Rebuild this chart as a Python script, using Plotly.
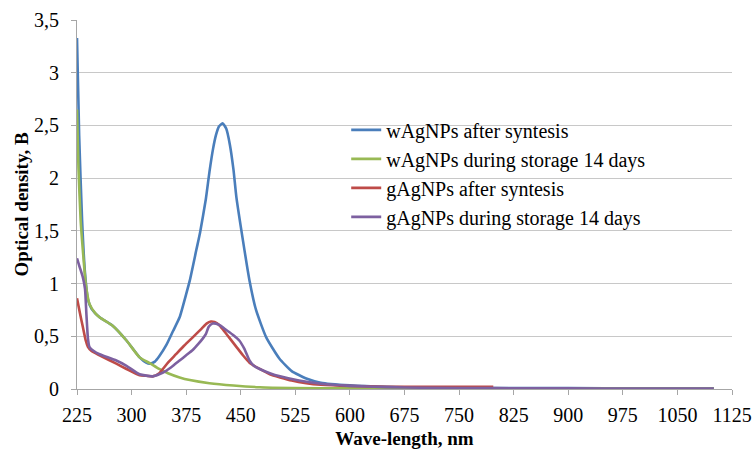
import plotly.graph_objects as go

# ---- data ----
blue_wl = [225, 228, 232, 236, 240, 245, 256, 274, 293, 311, 320, 325, 332, 338, 348, 357, 366, 375, 380,
           389, 394, 402, 407, 412, 416, 420, 425, 430, 435, 440, 444, 453, 462, 471, 485, 503, 520, 540, 560,
           600, 650, 700, 800, 900, 1000, 1100]
blue_od = [3.33, 2.4, 1.6, 1.1, 0.85, 0.76, 0.68, 0.60, 0.46, 0.30, 0.25, 0.24, 0.26, 0.31, 0.42, 0.55, 0.68,
           0.9, 1.03, 1.32, 1.48, 1.8, 2.06, 2.28, 2.41, 2.49, 2.52, 2.47, 2.32, 2.08, 1.82, 1.41, 1.03, 0.75,
           0.49, 0.29, 0.17, 0.10, 0.06, 0.035, 0.02, 0.015, 0.01, 0.008, 0.007, 0.006]

green_wl = [225, 227, 230, 233, 237, 242, 250, 256, 274, 293, 311, 325, 338, 350, 366, 380, 407, 440, 476,
            520, 600, 700, 800, 900, 1000, 1100]
green_od = [2.65, 2.1, 1.6, 1.32, 1.0, 0.81, 0.72, 0.68, 0.60, 0.46, 0.30, 0.245, 0.19, 0.15, 0.11, 0.085,
            0.055, 0.033, 0.017, 0.01, 0.006, 0.004, 0.004, 0.004, 0.004, 0.004]

red_wl = [225, 229, 233, 237, 240, 245, 256, 279, 293, 311, 320, 329, 338, 350, 361, 372, 384, 396, 403, 409,
          414, 420, 426, 435, 444, 453, 462, 476, 490, 504, 520, 540, 560, 600, 650, 700, 797]
red_od = [0.86, 0.72, 0.59, 0.46, 0.40, 0.36, 0.32, 0.24, 0.19, 0.13, 0.125, 0.12, 0.15, 0.25, 0.33, 0.41,
          0.49, 0.57, 0.62, 0.64, 0.635, 0.61, 0.56, 0.48, 0.40, 0.32, 0.25, 0.19, 0.14, 0.11, 0.08, 0.055,
          0.04, 0.028, 0.022, 0.02, 0.02]

purple_wl = [225, 229, 233, 236, 238, 240, 242, 248, 256, 279, 293, 311, 329, 338, 348, 357, 366, 375, 384,
             392, 398, 402, 406, 411, 416, 422, 430, 440, 448, 455, 462, 468, 476, 490, 504, 530, 560, 600,
             650, 700, 800, 900, 1000, 1100]
purple_od = [1.24, 1.15, 1.06, 0.95, 0.70, 0.48, 0.40, 0.36, 0.33, 0.27, 0.22, 0.14, 0.12, 0.14, 0.175, 0.22,
             0.27, 0.32, 0.37, 0.43, 0.48, 0.52, 0.59, 0.62, 0.62, 0.60, 0.56, 0.51, 0.46, 0.38, 0.27, 0.22,
             0.19, 0.15, 0.12, 0.08, 0.05, 0.03, 0.018, 0.012, 0.008, 0.006, 0.005, 0.005]

names = ["wAgNPs after syntesis", "wAgNPs during storage 14 days",
         "gAgNPs after syntesis", "gAgNPs during storage 14 days"]
colors = ["#4A7EBB", "#98B954", "#BE4B48", "#7D60A0"]

x_ticks = [225, 300, 375, 450, 525, 600, 675, 750, 825, 900, 975, 1050, 1125]
y_ticks = [0, 0.5, 1, 1.5, 2, 2.5, 3, 3.5]
y_tick_text = ["0", "0,5", "1", "1,5", "2", "2,5", "3", "3,5"]

FONT = "Liberation Serif, Times New Roman, serif"

fig = go.Figure()
for wl, od, nm, c in zip([blue_wl, green_wl, red_wl, purple_wl],
                         [blue_od, green_od, red_od, purple_od], names, colors):
    fig.add_trace(go.Scatter(x=wl, y=od, mode="lines", name=nm,
                             line=dict(color=c, width=2.6, shape="spline", smoothing=0.5)))

fig.update_layout(
    width=753, height=450,
    margin=dict(l=77, r=21, t=20, b=61, autoexpand=False),
    plot_bgcolor="white", paper_bgcolor="white",
    font=dict(family=FONT, size=20, color="black"),
    showlegend=True,
    legend=dict(x=0.411, y=0.755, xanchor="left", yanchor="top",
                font=dict(family=FONT, size=20, color="black"),
                bgcolor="rgba(0,0,0,0)", borderwidth=0),
)
fig.update_xaxes(
    range=[225, 1125], tickvals=x_ticks, ticktext=[str(t) for t in x_ticks],
    showgrid=False, zeroline=False, automargin=False,
    showline=True, linecolor="#A6A6A6", linewidth=1,
    ticks="outside", ticklen=5, tickcolor="#A6A6A6", ticklabelstandoff=3,
    tickfont=dict(family=FONT, size=20, color="black"),
    title=dict(text="<b>Wave-length, nm</b>", font=dict(family=FONT, size=19, color="black"), standoff=6),
)
fig.update_yaxes(
    range=[0, 3.5], tickvals=y_ticks, ticktext=y_tick_text,
    showgrid=True, gridcolor="#C8C8C8", gridwidth=1, zeroline=False, automargin=False,
    showline=True, linecolor="#A6A6A6", linewidth=1,
    ticks="outside", ticklen=5, tickcolor="#A6A6A6", ticklabelstandoff=8,
    tickfont=dict(family=FONT, size=20, color="black"),
    title=dict(text="<b>Optical density, B</b>", font=dict(family=FONT, size=19, color="black"), standoff=0),
)

fig.write_html("out.html")
